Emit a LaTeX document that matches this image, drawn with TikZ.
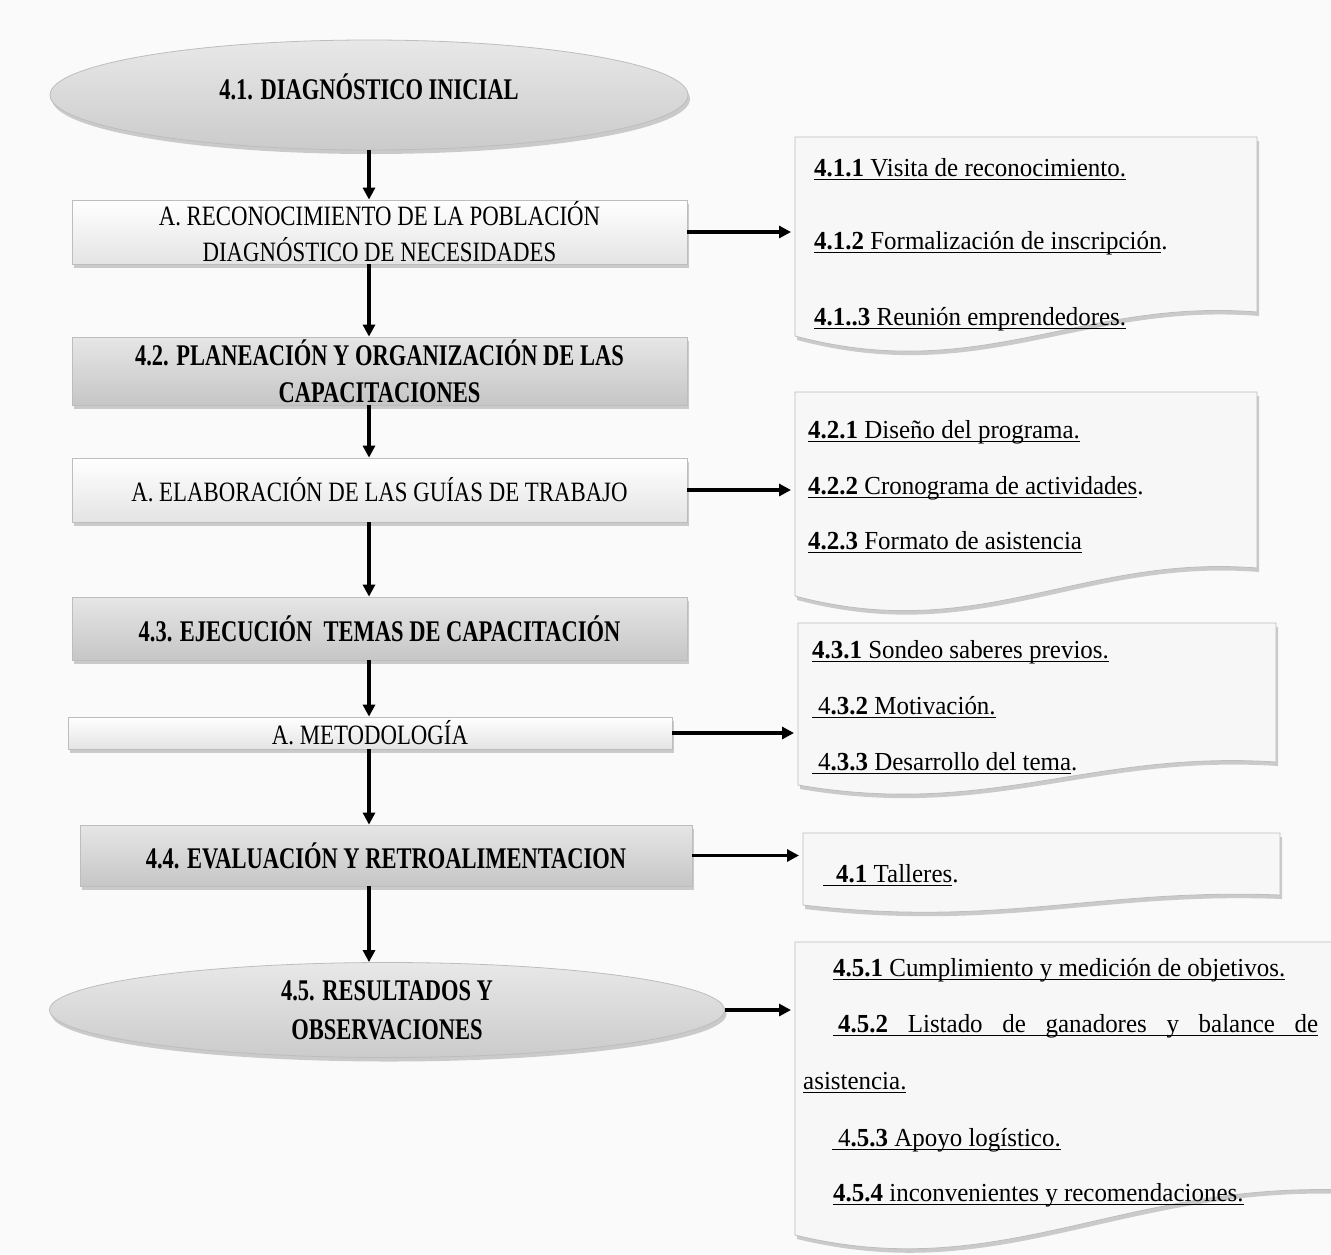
\documentclass[tikz,border=0pt]{standalone}
\usepackage{fontspec}
\setmainfont{Liberation Serif}[FakeStretch=0.96]
\newfontfamily\boxfont{Liberation Serif}[FakeStretch=0.815]
\newfontfamily\titlefont{Liberation Serif}[FakeStretch=0.75]
\usetikzlibrary{shadows,arrows.meta,shapes.geometric}
\definecolor{bg}{HTML}{FAFAFA}
\definecolor{bordergray}{HTML}{BDBDBD}
\definecolor{boxbot}{HTML}{E4E4E4}
\definecolor{tboxtop}{HTML}{E6E6E6}
\definecolor{tboxbot}{HTML}{C6C6C6}
\definecolor{elltop}{HTML}{E8E8E8}
\definecolor{ellbot}{HTML}{CBCBCB}
\definecolor{docfill}{HTML}{F7F7F7}
\newsavebox\ulnbox
\newcommand\uln[1]{\sbox\ulnbox{#1}\rlap{\rule[-4pt]{\wd\ulnbox}{1.3pt}}\usebox\ulnbox}
\tikzset{
  shad/.style={drop shadow={shadow xshift=2pt,shadow yshift=-4pt,opacity=0.35,fill=black!55}},
  bx/.style={draw=bordergray, line width=0.8pt, top color=white, bottom color=boxbot, shad,
    align=center, inner sep=0pt, font=\boxfont\fontsize{28}{36}\selectfont},
  tbx/.style={bx, top color=tboxtop, bottom color=tboxbot,
    font=\titlefont\bfseries\fontsize{30}{37}\selectfont},
  ell/.style={ellipse, draw=bordergray, line width=0.8pt, top color=elltop, bottom color=ellbot, shad,
    align=center, inner sep=0pt, font=\titlefont\bfseries\fontsize{30}{39}\selectfont},
  doc/.style={draw=bordergray, line width=0.8pt, fill=docfill, shad},
  item/.style={anchor=base west, inner sep=0pt, font=\fontsize{26}{30}\selectfont},
  arr/.style={line width=3.6pt, -{Triangle[length=12pt,width=12pt]}},
  harr/.style={arr, shorten >=4pt},
}
\begin{document}
\begin{tikzpicture}[x=1pt,y=-1pt]
\useasboundingbox (0,0) rectangle (1331,1254);
\fill[bg] (0,0) rectangle (1331,1254);

% left column
\node[ell, minimum width=638pt, minimum height=110pt, text depth=16pt] (e1) at (369,95) {4.1. DIAGNÓSTICO INICIAL};
\node[bx, minimum width=615pt, minimum height=64pt] (a1) at (379.5,232) {A. RECONOCIMIENTO DE LA POBLACIÓN\\DIAGNÓSTICO DE NECESIDADES};
\node[tbx, minimum width=615pt, minimum height=68pt] (b2) at (379.5,371) {4.2. PLANEACIÓN Y ORGANIZACIÓN DE LAS\\CAPACITACIONES};
\node[bx, minimum width=615pt, minimum height=64pt] (a2) at (379.5,490) {A. ELABORACIÓN DE LAS GUÍAS DE TRABAJO};
\node[tbx, minimum width=615pt, minimum height=63pt] (b3) at (379.5,628.5) {4.3. EJECUCIÓN\ \ TEMAS DE CAPACITACIÓN};
\node[bx, minimum width=604pt, minimum height=32pt] (a3) at (370,733) {A. METODOLOGÍA};
\node[tbx, minimum width=612pt, minimum height=61pt] (b4) at (386,855.5) {4.4. EVALUACIÓN Y RETROALIMENTACION};
\node[ell, minimum width=675pt, minimum height=95pt] (e5) at (387,1010) {4.5. RESULTADOS Y\\OBSERVACIONES};

% vertical arrows
\draw[arr] (e1.south) -- (e1.south |- a1.north);
\draw[arr] (a1.south -| e1.south) -- (e1.south |- b2.north);
\draw[arr] (b2.south -| e1.south) -- (e1.south |- a2.north);
\draw[arr] (a2.south -| e1.south) -- (e1.south |- b3.north);
\draw[arr] (b3.south -| e1.south) -- (e1.south |- a3.north);
\draw[arr] (a3.south -| e1.south) -- (e1.south |- b4.north);
\draw[arr] (b4.south -| e1.south) -- (e1.south |- e5.north);

% documents
\draw[doc] (795,137) -- (1257,137) -- (1257,312) .. controls (1080,298) and (980,385) .. (795,336) -- cycle;
\coordinate (d1) at (795,232);
\draw[doc] (795,392) -- (1257,392) -- (1257,568) .. controls (1080,554) and (980,645) .. (795,596) -- cycle;
\coordinate (d2) at (795,490);
\draw[doc] (798,623) -- (1276,623) -- (1276,762) .. controls (1090,750) and (990,818) .. (798,785) -- cycle;
\coordinate (d3) at (798,733);
\draw[doc] (803,833) -- (1280,833) -- (1280,895) .. controls (1100,888) and (1000,928) .. (803,905) -- cycle;
\coordinate (d4) at (803,855);
\draw[doc] (795,942) -- (1345,942) -- (1345,1190) .. controls (1120,1182) and (1000,1285) .. (795,1235) -- cycle;
\coordinate (d5) at (795,1008);

% horizontal arrows
\draw[harr] (a1.east) -- (a1.east -| d1);
\draw[harr] (a2.east) -- (a2.east -| d2);
\draw[harr] (a3.east) -- (a3.east -| d3);
\draw[harr] (b4.east) -- (b4.east -| d4);
\draw[harr] (e5.east) -- (e5.east -| d5);

% document texts
\node[item] (t111) at (814,176) {\uln{\textbf{4.1.1} Visita de reconocimiento.}};
\node[item] (t112) at (814,249) {\uln{\textbf{4.1.2} Formalización de inscripción}.};
\node[item] (t113) at (814,325) {\uln{\textbf{4.1..3} Reunión emprendedores.}};

\node[item] (t121) at (808,438) {\uln{\textbf{4.2.1} Diseño del programa.}};
\node[item] (t122) at (808,494) {\uln{\textbf{4.2.2} Cronograma de actividades}.};
\node[item] (t123) at (808,549) {\uln{\textbf{4.2.3} Formato de asistencia}};

\node[item] (t131) at (812,658) {\uln{\textbf{4.3.1} Sondeo saberes previos.}};
\node[item] (t132) at (812,714) {\uln{\hspace*{6pt}4\textbf{.3.2} Motivación.}};
\node[item] (t133) at (812,770) {\uln{\hspace*{6pt}4\textbf{.3.3} Desarrollo del tema}.};

\node[item] (t141) at (823,882) {\uln{\hspace*{13pt}\textbf{4.1} Talleres}.};

\node[item] (t151) at (833,976) {\uln{\textbf{4.5.1} Cumplimiento y medición de objetivos.}};
\node[item] (t152) at (833,1032) {\uln{\makebox[485pt][s]{\hspace*{5pt}\textbf{4.5.2} Listado de ganadores y balance de}}};
\node[item] (t152b) at (803,1089) {\uln{asistencia.}};
\node[item] (t153) at (832,1146) {\uln{\hspace*{6pt}4\textbf{.5.3} Apoyo logístico.}};
\node[item] (t154) at (833,1201) {\uln{\textbf{4.5.4} inconvenientes y recomendaciones.}};
\end{tikzpicture}
\end{document}
